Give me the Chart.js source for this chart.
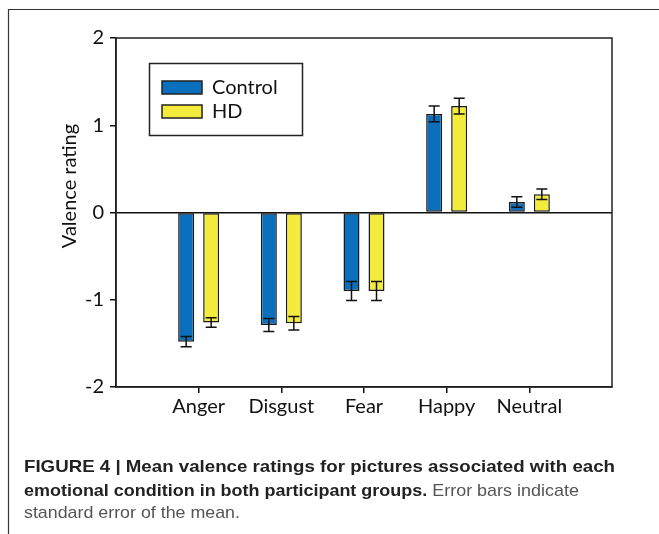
<!DOCTYPE html>
<html>
<head>
<meta charset="utf-8">
<script src="https://cdn.jsdelivr.net/npm/chart.js@4.4.0/dist/chart.umd.min.js"></script>
<style>
  body { margin: 0; background: #fff; }
  #wrap { position: relative; width: 659px; height: 534px; overflow: hidden; }
  #myChart { position: absolute; left: 0; top: 0; }
  .cap { position: absolute; left: 24px; white-space: nowrap; font-family: "Liberation Sans", Arial, sans-serif;
         font-size: 17px; color: #555; transform-origin: 0 0; }
  .cap b { color: #222; }
</style>
</head>
<body>
<div id="wrap">
  <canvas id="myChart" width="659" height="534"></canvas>
  <div class="cap" id="c1" style="top:457px"><b>FIGURE 4 | Mean valence ratings for pictures associated with each</b></div>
  <div class="cap" id="c2" style="top:481px"><b>emotional condition in both participant groups.</b> Error bars indicate</div>
  <div class="cap" id="c3" style="top:503px">standard error of the mean.</div>
</div>
<script>
var categories = ['Anger', 'Disgust', 'Fear', 'Happy', 'Neutral'];
var controlMeans = [-1.48, -1.29, -0.90, 1.13, 0.12];
var controlErrors = [0.06, 0.075, 0.11, 0.09, 0.06];
var hdMeans = [-1.26, -1.27, -0.90, 1.22, 0.21];
var hdErrors = [0.055, 0.077, 0.11, 0.09, 0.06];
var seriesNames = ['Control', 'HD'];
var seriesColors = ['#0a6fbd', '#f4ec3c'];

// caption lines: squeeze to the condensed width of the original
[['c1', 591], ['c2', 555], ['c3', 216]].forEach(function (c) {
    var el = document.getElementById(c[0]);
    var w = el.getBoundingClientRect().width;
    el.style.transform = 'scaleX(' + (c[1] / w) + ')';
});

var FONT = 'Lato, "Open Sans", sans-serif';

var decor = {
    id: 'decor',
    beforeDraw: function (chart) {
        var c = chart.ctx;
        c.save();
        c.strokeStyle = '#333';
        c.lineWidth = 1.2;
        c.beginPath();
        c.moveTo(8.5, 534);
        c.lineTo(8.5, 9.5);
        c.lineTo(659, 9.5);
        c.stroke();
        c.restore();
    },
    afterDatasetsDraw: function (chart) {
        var c = chart.ctx;
        var a = chart.chartArea;
        var y = chart.scales.y;
        var errs = [controlErrors, hdErrors];
        var means = [controlMeans, hdMeans];
        c.save();
        // error bars
        c.strokeStyle = '#111';
        c.lineWidth = 1.5;
        for (var d = 0; d < 2; d++) {
            var meta = chart.getDatasetMeta(d);
            meta.data.forEach(function (bar, i) {
                var top = y.getPixelForValue(means[d][i] + errs[d][i]);
                var bot = y.getPixelForValue(means[d][i] - errs[d][i]);
                c.beginPath();
                c.moveTo(bar.x, top); c.lineTo(bar.x, bot);
                c.moveTo(bar.x - 5.5, top); c.lineTo(bar.x + 5.5, top);
                c.moveTo(bar.x - 5.5, bot); c.lineTo(bar.x + 5.5, bot);
                c.stroke();
            });
        }
        // plot box
        c.lineWidth = 1.5;
        c.strokeStyle = '#222';
        c.strokeRect(a.left, a.top, a.right - a.left, a.bottom - a.top);
        // legend
        c.strokeRect(149.5, 63.5, 153, 72);
        c.font = '20px ' + FONT;
        c.textBaseline = 'middle';
        for (var k = 0; k < 2; k++) {
            var sy = 81 + k * 24;
            c.fillStyle = seriesColors[k];
            c.fillRect(162, sy, 40, 13);
            c.strokeRect(162, sy, 40, 13);
            c.fillStyle = '#111';
            c.fillText(seriesNames[k], 212, sy + 6.5);
        }
        // y title
        c.translate(70, 186);
        c.rotate(-Math.PI / 2);
        c.textAlign = 'center';
        c.fillText('Valence rating', 0, 0);
        c.restore();
    }
};

function toPoints(vals) {
    return vals.map(function (v, i) { return { x: i + 1, y: v }; });
}

var ctx = document.getElementById('myChart');
var myChart = new Chart(ctx, {
    type: 'bar',
    data: {
        datasets: [{
            label: seriesNames[0],
            data: toPoints(controlMeans),
            backgroundColor: seriesColors[0],
            borderColor: '#1a1a1a',
            borderWidth: 1.5,
            borderSkipped: false
        }, {
            label: seriesNames[1],
            data: toPoints(hdMeans),
            backgroundColor: seriesColors[1],
            borderColor: '#1a1a1a',
            borderWidth: 1.5,
            borderSkipped: false
        }]
    },
    options: {
        responsive: false,
        animation: false,
        devicePixelRatio: 1,
        categoryPercentage: 0.605,
        barPercentage: 0.64,
        layout: { padding: { left: 76, top: 38, right: 47, bottom: 111 } },
        plugins: { legend: { display: false }, tooltip: { enabled: false } },
        scales: {
            x: {
                type: 'linear',
                min: 0,
                max: 6,
                offset: false,
                afterFit: function (s) { s.height = 36; },
                ticks: {
                    stepSize: 1,
                    autoSkip: false,
                    maxRotation: 0,
                    padding: 2,
                    color: '#111',
                    font: { family: FONT, size: 20 },
                    callback: function (v) { return categories[v - 1] || ''; }
                },
                grid: {
                    offset: false,
                    drawOnChartArea: false,
                    tickLength: 6,
                    lineWidth: 1.5,
                    tickColor: function (c) {
                        return (c.tick && c.tick.value >= 1 && c.tick.value <= 5) ? '#111' : 'rgba(0,0,0,0)';
                    }
                },
                border: { color: '#111', width: 1.5 }
            },
            y: {
                min: -2,
                max: 2,
                afterFit: function (s) { s.width = 40; },
                ticks: {
                    stepSize: 1,
                    padding: 6,
                    color: '#111',
                    font: { family: FONT, size: 20 }
                },
                grid: {
                    lineWidth: 1.5,
                    tickLength: 6,
                    tickColor: '#111',
                    color: function (c) {
                        return (c.tick && c.tick.value === 0) ? '#111' : 'rgba(0,0,0,0)';
                    }
                },
                border: { color: '#111', width: 1.5 }
            }
        }
    },
    plugins: [decor]
});
</script>
</body>
</html>
